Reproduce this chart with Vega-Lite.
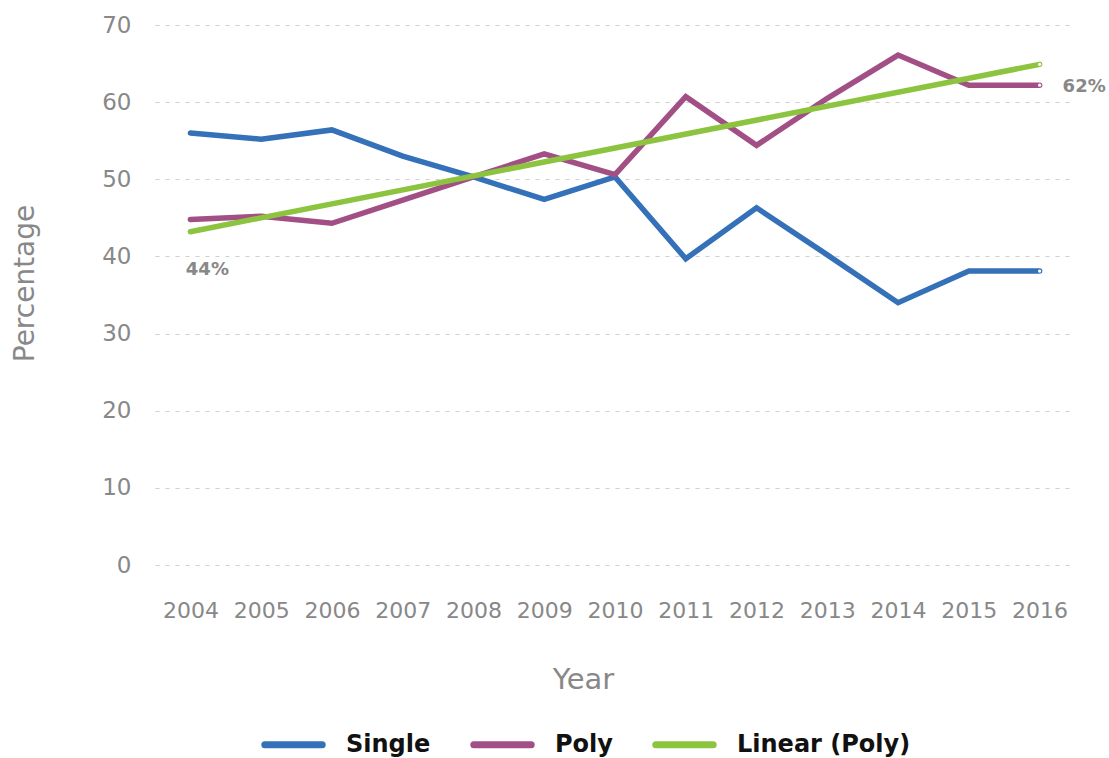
{
  "$schema": "https://vega.github.io/schema/vega-lite/v6.json",
  "autosize": "none",
  "width": 920,
  "height": 540,
  "padding": {"left": 155, "top": 25, "right": 34, "bottom": 193},
  "background": "white",
  "config": {
    "font": "DejaVu Sans",
    "view": {"stroke": null}
  },
  "data": {
    "values": [
      {"Year": "2004", "Series": "Single", "Value": 56.0},
      {"Year": "2005", "Series": "Single", "Value": 55.2},
      {"Year": "2006", "Series": "Single", "Value": 56.4},
      {"Year": "2007", "Series": "Single", "Value": 53.0},
      {"Year": "2008", "Series": "Single", "Value": 50.3},
      {"Year": "2009", "Series": "Single", "Value": 47.4},
      {"Year": "2010", "Series": "Single", "Value": 50.3},
      {"Year": "2011", "Series": "Single", "Value": 39.7},
      {"Year": "2012", "Series": "Single", "Value": 46.3},
      {"Year": "2013", "Series": "Single", "Value": 40.2},
      {"Year": "2014", "Series": "Single", "Value": 34.0},
      {"Year": "2015", "Series": "Single", "Value": 38.1},
      {"Year": "2016", "Series": "Single", "Value": 38.1},
      {"Year": "2004", "Series": "Poly", "Value": 44.8, "Label": "44%"},
      {"Year": "2005", "Series": "Poly", "Value": 45.2},
      {"Year": "2006", "Series": "Poly", "Value": 44.3},
      {"Year": "2007", "Series": "Poly", "Value": 47.3},
      {"Year": "2008", "Series": "Poly", "Value": 50.3},
      {"Year": "2009", "Series": "Poly", "Value": 53.3},
      {"Year": "2010", "Series": "Poly", "Value": 50.6},
      {"Year": "2011", "Series": "Poly", "Value": 60.7},
      {"Year": "2012", "Series": "Poly", "Value": 54.4},
      {"Year": "2013", "Series": "Poly", "Value": 60.5},
      {"Year": "2014", "Series": "Poly", "Value": 66.1},
      {"Year": "2015", "Series": "Poly", "Value": 62.2},
      {"Year": "2016", "Series": "Poly", "Value": 62.2, "Label": "62%"},
      {"Year": "2004", "Series": "Linear (Poly)", "Value": 43.2},
      {"Year": "2016", "Series": "Linear (Poly)", "Value": 64.9}
    ]
  },
  "encoding": {
    "x": {
      "field": "Year",
      "type": "ordinal",
      "scale": {"type": "point", "padding": 0.5},
      "axis": {
        "title": "Year",
        "labelAngle": 0,
        "labelFontSize": 22,
        "labelColor": "#888888",
        "labelPadding": 35,
        "titleFontSize": 29,
        "titleColor": "#888888",
        "titleFontWeight": "normal",
        "titlePadding": 44,
        "titleX": 428,
        "domain": false,
        "ticks": false,
        "grid": false
      }
    },
    "y": {
      "field": "Value",
      "type": "quantitative",
      "scale": {"domain": [0, 70], "nice": false},
      "axis": {
        "title": "Percentage",
        "values": [0, 10, 20, 30, 40, 50, 60, 70],
        "labelFontSize": 23,
        "labelColor": "#888888",
        "labelPadding": 24,
        "titleFontSize": 28,
        "titleColor": "#888888",
        "titleFontWeight": "normal",
        "titlePadding": 62,
        "titleY": 258,
        "domain": false,
        "ticks": false,
        "grid": true,
        "gridColor": "#d0d0d0",
        "gridDash": [4, 6],
        "gridWidth": 1.2
      }
    },
    "color": {
      "field": "Series",
      "type": "nominal",
      "scale": {
        "domain": ["Single", "Poly", "Linear (Poly)"],
        "range": ["#3471b8", "#a24f86", "#8cc43f"]
      },
      "legend": {
        "title": null,
        "orient": "none",
        "direction": "horizontal",
        "legendX": 121,
        "legendY": 702,
        "symbolType": "M-2.05,0H2.05",
        "symbolSize": 784,
        "symbolStrokeWidth": 7,
        "labelFontSize": 24,
        "labelFontWeight": "bold",
        "labelColor": "#111111",
        "labelOffset": 35,
        "labelLimit": 400,
        "columnPadding": 28,
        "encode": {"symbols": {"update": {"strokeCap": {"value": "round"}}}}
      }
    }
  },
  "layer": [
    {
      "mark": {"type": "line", "strokeWidth": 5.5, "strokeCap": "round", "strokeJoin": "miter"},
      "encoding": {"detail": {"field": "Series"}}
    },
    {
      "transform": [{"filter": "datum.Year == '2016'"}],
      "mark": {"type": "point", "filled": true, "fill": "white", "opacity": 1, "size": 10, "strokeWidth": 0},
      "encoding": {"color": {"value": "white"}}
    },
    {
      "transform": [{"filter": "datum.Label == '62%'"}],
      "mark": {"type": "text", "align": "left", "baseline": "middle", "dx": 23, "dy": 2, "fontSize": 18, "fontWeight": "bold"},
      "encoding": {"text": {"field": "Label"}, "color": {"value": "#888888"}}
    },
    {
      "transform": [{"filter": "datum.Label == '44%'"}],
      "mark": {"type": "text", "align": "center", "baseline": "middle", "dx": 17, "dy": 51, "fontSize": 18, "fontWeight": "bold"},
      "encoding": {"text": {"field": "Label"}, "color": {"value": "#888888"}}
    }
  ]
}
